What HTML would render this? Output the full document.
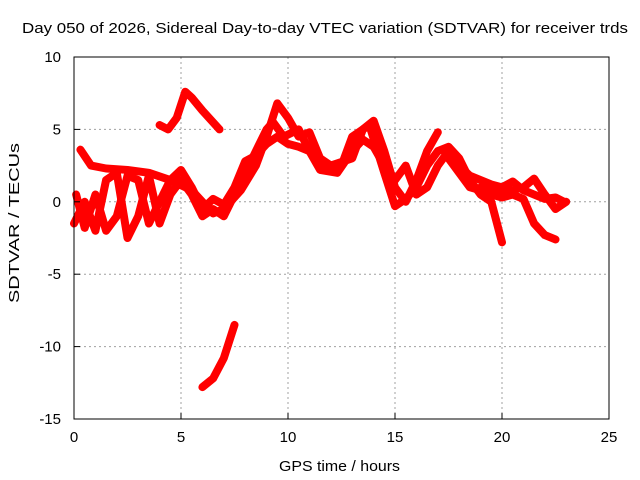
<!DOCTYPE html>
<html><head><meta charset="utf-8"><style>
body{margin:0;background:#fff}
svg{display:block;font-family:"Liberation Sans",sans-serif}
</style></head><body>
<svg id="chart" width="640" height="480">
<text x="22" y="33" font-size="15" textLength="606" lengthAdjust="spacingAndGlyphs">Day 050 of 2026, Sidereal Day-to-day VTEC variation (SDTVAR) for receiver trds</text>
<text x="279" y="471" font-size="15" textLength="121" lengthAdjust="spacingAndGlyphs">GPS time / hours</text>
<text transform="translate(19,303) rotate(-90)" font-size="15" textLength="160" lengthAdjust="spacingAndGlyphs">SDTVAR / TECUs</text>
<g id="grid"></g><g id="series"></g><g id="axes"></g>
</svg>
<script>
const xTicks=[0,5,10,15,20,25];
const yTicks=[10,5,0,-5,-10,-15];
const trackA=[[4.0,5.3],[4.4,5.0],[4.8,5.8],[5.2,7.6],[5.5,7.2],[6.0,6.3],[6.8,5.0]];
const trackB=[[6.0,-12.8],[6.5,-12.2],[7.0,-10.8],[7.5,-8.5]];
const trackC=[[0.3,3.6],[0.8,2.5],[1.5,2.3],[2.5,2.2],[3.5,2.0],[4.5,1.5],[5.5,0.8],[6.0,0],[6.5,-0.8],[7.0,-0.5],[7.8,0.8],[8.5,2.5],[9.0,4.5],[9.5,6.8],[10.0,5.8],[10.5,4.5],[11,4.8],[11.5,3.0],[12,2.5],[13,3.0],[13.5,5.0],[14,5.6],[14.5,3.5],[15,1.0],[15.5,0],[16,1.5],[16.5,3.5],[17,4.8]];
const trackD=[[0,-1.5],[0.5,0],[1.0,-2.0],[1.5,1.5],[2.0,2.0],[2.5,-2.5],[3.0,-1.0],[3.5,1.8],[4.0,-1.5],[4.5,0.5],[5.0,1.5],[5.5,0.5],[6.0,-1.0],[6.5,-0.5],[7.0,-1.0],[7.5,0.5],[8.0,2.0],[8.5,3.5],[9.0,5.0],[9.3,5.5],[9.8,4.5],[10.5,5.0],[11,3.5],[11.5,2.5],[12.5,2.5],[13,4.5],[13.8,5.3],[14.5,2.0],[15,-0.3],[15.5,0.2],[16,1.0],[16.5,2.5],[17,3.5],[17.5,3.8],[18,3.0],[18.5,1.5],[19,0.5],[19.5,0],[20,-2.8]];
const trackE=[[0.1,0.5],[0.5,-1.8],[1.0,0.5],[1.5,-2.0],[2.0,-1.0],[2.5,1.8],[3.0,1.5],[3.5,-1.5],[4.0,0],[4.5,1.5],[5.0,2.2],[5.5,1.0],[6.0,-0.5],[6.5,0.2],[7.0,-0.2],[7.5,1.0],[8.0,2.8],[8.5,3.2],[9.0,4.0],[9.5,4.5],[10.0,4.0],[10.5,3.8],[11,3.5],[11.5,2.2],[12.3,2.0],[13,3.5],[13.5,4.3],[14,3.8],[14.5,2.5],[15,1.5],[15.5,2.5],[16,0.5],[16.5,1.0],[17,2.5],[17.5,3.5],[18,2.5],[18.5,1.8],[19,1.5],[19.5,1.2],[20,1.0],[20.5,1.4],[21,0.8],[21.5,0.5],[22,0.2],[22.5,0.3],[22.9,0]];
const trackF=[[17.5,3.0],[18,2.0],[18.5,1.0],[19,0.8],[19.5,0.5],[20,0.3],[20.5,0.5],[21,0.2],[21.5,-1.5],[22,-2.3],[22.5,-2.6]];
const trackG=[[19,1.0],[20,0.6],[21,1.0],[21.5,1.6],[22,0.5],[22.5,-0.5],[23,0]];
const tracks=[trackA,trackB,trackC,trackD,trackE,trackF,trackG];

const L=74,R=609,T=57,B=419;
const xs=v=>L+(v-0)/25*(R-L);
const ys=v=>B-(v+15)/25*(B-T);
const NS="http://www.w3.org/2000/svg";
function mk(tag,attrs,parent){const e=document.createElementNS(NS,tag);for(const k in attrs)e.setAttribute(k,attrs[k]);parent.appendChild(e);return e;}
const grid=document.getElementById('grid'),axes=document.getElementById('axes'),series=document.getElementById('series');
xTicks.forEach(t=>{
  if(t>0&&t<25){const g=mk('line',{x1:xs(t),x2:xs(t),y1:T,y2:B,stroke:'#a0a0a0','stroke-dasharray':'2,3'},grid);
  
  }
  const tk=mk('line',{x1:xs(t),x2:xs(t),y1:B,y2:B-6,stroke:'#000'},axes);
  
  
  const lb=mk('text',{x:xs(t),y:B+23,'font-size':15,'text-anchor':'middle'},axes);lb.textContent=t;
  
  
});
yTicks.forEach(t=>{
  if(t>-15&&t<10){const g=mk('line',{x1:L,x2:R,y1:ys(t),y2:ys(t),stroke:'#a0a0a0','stroke-dasharray':'2,3'},grid);
  
  }
  const tk=mk('line',{x1:L,x2:L+6,y1:ys(t),y2:ys(t),stroke:'#000'},axes);
  
  
  const lb=mk('text',{x:L-13,y:ys(t)+5,'font-size':15,'text-anchor':'end'},axes);lb.textContent=t;
  
  
});
const frame=mk('rect',{x:L,y:T,width:R-L,height:B-T,fill:'none',stroke:'#000'},axes);


tracks.forEach(tr=>{
  const p=mk('polyline',{points:tr.map(d=>xs(d[0])+','+ys(d[1])).join(' '),fill:'none',stroke:'#ff0000','stroke-width':8,'stroke-linejoin':'round','stroke-linecap':'round'},series);
  
  
});
</script>
</body></html>
